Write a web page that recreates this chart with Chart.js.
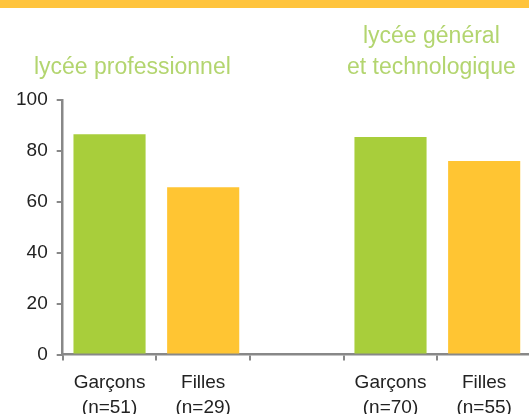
<!DOCTYPE html>
<html>
<head>
<meta charset="utf-8">
<script src="https://cdn.jsdelivr.net/npm/chart.js@4/dist/chart.umd.min.js"></script>
<style>
  html, body { margin: 0; padding: 0; background: #fff; }
  #wrap { position: relative; width: 529px; height: 414px; overflow: hidden; }
  #band { position: absolute; left: 0; top: 0; width: 529px; height: 8px; background: #FFC43D; }
  #box { position: absolute; left: 0; top: 0; width: 531px; height: 430px; }
</style>
</head>
<body>
<div id="wrap">
  <div id="band"></div>
  <div id="box"><canvas id="lyceeChart"></canvas></div>
</div>
<script>
const categories = [['Garçons', '(n=51)'], ['Filles', '(n=29)'], '', ['Garçons', '(n=70)'], ['Filles', '(n=55)']];
const values = [86.5, 65.7, null, 85.5, 76];
const groupTitles = [['lycée professionnel'], ['lycée général', 'et technologique']];
const yTicks = [0, 20, 40, 60, 80, 100];

const GREEN = '#A8CE3B';
const YELLOW = '#FFC533';
const barColors = [GREEN, YELLOW, GREEN, GREEN, YELLOW];
const FONT = '"Liberation Sans", Arial, sans-serif';

const groupTitlesPlugin = {
    id: 'groupTitles',
    afterDraw(chart) {
        const ctx = chart.ctx;
        const x = chart.scales.x;
        ctx.save();
        ctx.fillStyle = '#B3D56F';
        ctx.font = '23px ' + FONT;
        ctx.textAlign = 'center';
        ctx.textBaseline = 'middle';
        // left title sits a bit left of the first pair's centre
        const c1 = (x.getPixelForValue(0) + x.getPixelForValue(1)) / 2 - 24;
        groupTitles[0].forEach((t, i) => ctx.fillText(t, c1, 68 + i * 31));
        const c2 = (x.getPixelForValue(3) + x.getPixelForValue(4)) / 2 - 6;
        groupTitles[1].forEach((t, i) => ctx.fillText(t, c2, 37 + i * 31));
        ctx.restore();
    }
};

new Chart(document.getElementById('lyceeChart'), {
    type: 'bar',
    data: {
        labels: categories,
        datasets: [{
            data: values,
            backgroundColor: barColors,
            borderWidth: 0,
            categoryPercentage: 1,
            barPercentage: 0.77
        }]
    },
    options: {
        responsive: true,
        maintainAspectRatio: false,
        animation: false,
        layout: { padding: { top: 100, left: 7, right: 0, bottom: 0 } },
        plugins: {
            legend: { display: false },
            tooltip: { enabled: false }
        },
        scales: {
            y: {
                min: 0,
                max: 100,
                afterBuildTicks: axis => { axis.ticks = yTicks.map(v => ({ value: v })); },
                border: { color: '#888888', width: 2.5 },
                grid: { drawOnChartArea: false, color: '#888888', lineWidth: 2, tickLength: 6 },
                ticks: {
                    color: '#222',
                    padding: 9,
                    font: { family: FONT, size: 19 }
                }
            },
            x: {
                border: { color: '#888888', width: 2.5 },
                grid: { drawOnChartArea: false, color: '#888888', lineWidth: 2, tickLength: 6, offset: true },
                ticks: {
                    color: '#222',
                    padding: 10,
                    maxRotation: 0,
                    font: { family: FONT, size: 19, lineHeight: 1.3 }
                }
            }
        }
    },
    plugins: [groupTitlesPlugin]
});
</script>
</body>
</html>
